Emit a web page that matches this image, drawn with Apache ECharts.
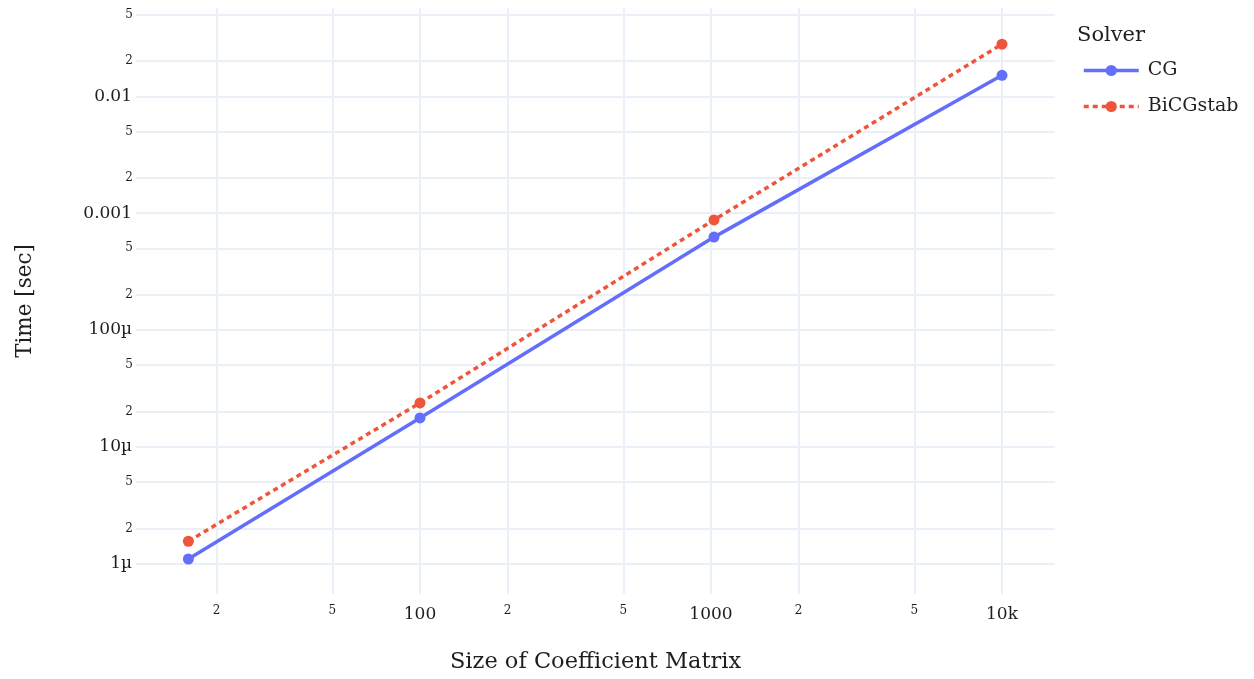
<!DOCTYPE html>
<html>
<head>
<meta charset="utf-8">
<script src="https://cdn.jsdelivr.net/npm/echarts@6/dist/echarts.min.js"></script>
<style>
html,body{margin:0;padding:0;background:#fff;}
#chart{width:1254px;height:679px;}
</style>
</head>
<body>
<div id="chart"></div>
<script>
// ---- data ----
const sizes = [16, 100, 1024, 10000];
const cgTimes = [1.10e-6, 1.77e-5, 6.24e-4, 0.0151];
const bicgTimes = [1.56e-6, 2.38e-5, 8.75e-4, 0.0279];
const seriesNames = ['CG', 'BiCGstab'];

// ---- ticks ----
const xMajorTicks = [100, 1000, 10000];
const xMajorLabels = ['100', '1000', '10k'];
const xMinorTicks = [20, 50, 200, 500, 2000, 5000];
const xMinorLabels = ['2', '5', '2', '5', '2', '5'];
const yMajorTicks = [1e-6, 1e-5, 1e-4, 1e-3, 1e-2];
const yMajorLabels = ['1µ', '10µ', '100µ', '0.001', '0.01'];
const yMinorTicks = [2e-6, 5e-6, 2e-5, 5e-5, 2e-4, 5e-4, 2e-3, 5e-3, 2e-2, 5e-2];
const yMinorLabels = ['2', '5', '2', '5', '2', '5', '2', '5', '2', '5'];

const xRange = [10.57, 15210];
const yRange = [5.52e-7, 0.0569];

const FONT = 'DejaVu Serif';
const TXT = '#1e1e1e';
const GRID = '#EBF0F8';
const BLUE = '#636EFA';
const RED = '#EF553B';

function majorLabel(ticks, labels) {
  return function (v) {
    for (let i = 0; i < ticks.length; i++) {
      if (Math.abs(Math.log10(v) - Math.log10(ticks[i])) < 1e-6) return labels[i];
    }
    return '';
  };
}

const gridLines = [];
xMajorTicks.forEach(v => gridLines.push({ xAxis: v, label: { show: false } }));
xMinorTicks.forEach((v, i) => gridLines.push({
  xAxis: v,
  label: { show: true, position: 'start', formatter: xMinorLabels[i], distance: 11,
           fontFamily: FONT, fontSize: 12, color: TXT }
}));
yMajorTicks.forEach(v => gridLines.push({ yAxis: v, label: { show: false } }));
yMinorTicks.forEach((v, i) => gridLines.push({
  yAxis: v,
  label: { show: true, position: 'start', formatter: yMinorLabels[i], distance: 3,
           fontFamily: FONT, fontSize: 12, color: TXT }
}));

const chart = echarts.init(document.getElementById('chart'), null, { renderer: 'canvas' });
chart.setOption({
  animation: false,
  backgroundColor: '#ffffff',
  grid: { left: 136, right: 199, top: 8, bottom: 77, containLabel: false },
  title: {
    text: 'Solver', left: 1077, top: 25, padding: 0,
    textStyle: { fontFamily: FONT, fontSize: 21, fontWeight: 'normal', color: TXT }
  },
  legend: {
    data: [
      { name: seriesNames[0], lineStyle: { color: BLUE, width: 3.5, type: 'solid' } },
      { name: seriesNames[1], lineStyle: { color: RED, width: 3.5, type: [5, 4] } }
    ],
    orient: 'vertical',
    left: 1082, top: 61, padding: 0,
    itemWidth: 55, itemHeight: 14, itemGap: 17,
    textStyle: { fontFamily: FONT, fontSize: 19, color: TXT, padding: [0, 0, 0, 4] }
  },
  xAxis: {
    type: 'log', logBase: 10, min: xRange[0], max: xRange[1],
    name: 'Size of Coefficient Matrix', nameLocation: 'middle', nameGap: 57,
    nameTextStyle: { fontFamily: FONT, fontSize: 22.5, color: TXT },
    axisLine: { show: false }, axisTick: { show: false },
    splitLine: { show: false }, minorSplitLine: { show: false },
    axisLabel: { formatter: majorLabel(xMajorTicks, xMajorLabels), margin: 12,
                 fontFamily: FONT, fontSize: 17, color: TXT,
                 showMinLabel: false, showMaxLabel: false }
  },
  yAxis: {
    type: 'log', logBase: 10, min: yRange[0], max: yRange[1],
    name: 'Time [sec]', nameLocation: 'middle', nameGap: 100,
    nameTextStyle: { fontFamily: FONT, fontSize: 21.5, color: TXT },
    axisLine: { show: false }, axisTick: { show: false },
    splitLine: { show: false }, minorSplitLine: { show: false },
    axisLabel: { formatter: majorLabel(yMajorTicks, yMajorLabels), margin: 4,
                 fontFamily: FONT, fontSize: 17, color: TXT,
                 showMinLabel: false, showMaxLabel: false }
  },
  series: [
    {
      name: seriesNames[0], type: 'line', z: 3,
      data: sizes.map((s, i) => [s, cgTimes[i]]),
      symbol: 'circle', symbolSize: 11, showSymbol: true,
      lineStyle: { color: BLUE, width: 3.5 },
      itemStyle: { color: BLUE },
      markLine: {
        z: 1, silent: true, symbol: ['none', 'none'], precision: 12,
        lineStyle: { color: GRID, width: 2, type: 'solid' },
        emphasis: { disabled: true },
        data: gridLines
      }
    },
    {
      name: seriesNames[1], type: 'line', z: 4,
      data: sizes.map((s, i) => [s, bicgTimes[i]]),
      symbol: 'circle', symbolSize: 11, showSymbol: true,
      lineStyle: { color: RED, width: 3.5, type: [5, 4] },
      itemStyle: { color: RED }
    }
  ]
});
</script>
</body>
</html>
